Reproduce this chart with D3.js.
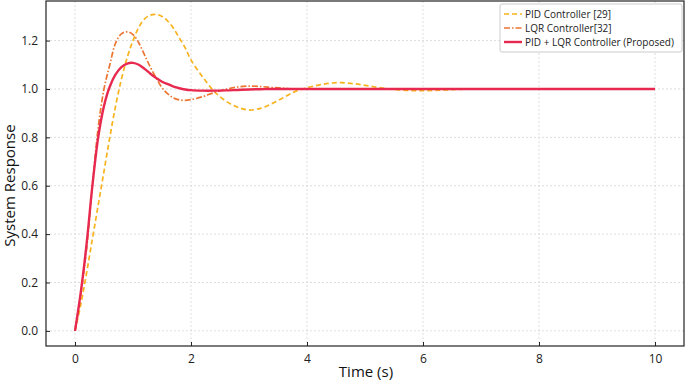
<!DOCTYPE html>
<html><head><meta charset="utf-8">
<script src="https://cdn.jsdelivr.net/npm/d3@7"></script>
<style>body{margin:0;background:#fff}svg{display:block}</style>
</head><body><svg id="c" width="685" height="381"></svg>
<script>
const time = [0,0.1,0.2,0.3,0.4,0.5,0.6,0.7,0.8,0.9,1.0,1.1,1.2,1.3,1.4,1.5,1.6,1.7,1.8,1.9,2.0,2.2,2.4,2.6,2.8,3.0,3.2,3.4,3.6,3.8,4.0,4.2,4.4,4.6,4.8,5.0,5.2,5.4,5.6,5.8,6.0,6.2,6.4,6.6,6.8,7.0,7.5,8.0,8.5,9.0,9.5,10.0];
const pid = [0,0.11,0.24,0.38,0.52,0.66,0.8,0.93,1.04,1.13,1.2,1.255,1.29,1.305,1.308,1.3,1.28,1.25,1.21,1.17,1.12,1.05,0.99,0.95,0.925,0.913,0.92,0.94,0.965,0.99,1.005,1.016,1.024,1.026,1.022,1.015,1.007,1.0,0.996,0.993,0.993,0.994,0.996,0.998,1.0,1.0,1.0,1.0,1.0,1.0,1.0,1.0];
const lqr = [0,0.15,0.34,0.6,0.84,1.0,1.1,1.19,1.228,1.236,1.225,1.19,1.14,1.09,1.045,1.005,0.98,0.963,0.955,0.953,0.956,0.968,0.985,0.998,1.008,1.012,1.01,1.006,1.003,1.0,1.0,1.0,1.0,1.0,1.0,1.0,1.0,1.0,1.0,1.0,1.0,1.0,1.0,1.0,1.0,1.0,1.0,1.0,1.0,1.0,1.0,1.0];
const proposed = [0,0.16,0.36,0.6,0.8,0.93,1.01,1.06,1.09,1.105,1.108,1.1,1.083,1.063,1.045,1.03,1.02,1.01,1.003,0.998,0.995,0.993,0.993,0.994,0.996,0.998,0.999,1.0,1.0,1.0,1.0,1.0,1.0,1.0,1.0,1.0,1.0,1.0,1.0,1.0,1.0,1.0,1.0,1.0,1.0,1.0,1.0,1.0,1.0,1.0,1.0,1.0];
const seriesNames = ["PID Controller [29]","LQR Controller[32]","PID + LQR Controller (Proposed)"];
const xTicks = [0,2,4,6,8,10];
const yTicks = [0.0,0.2,0.4,0.6,0.8,1.0,1.2];

const svg = d3.select("#c");
const L=46, R=684, T=1, B=346;
const x = d3.scaleLinear().domain([-0.5,10.5]).range([L,R]);
const y = d3.scaleLinear().domain([-0.0625,1.3636]).range([B,T]);
const font = "'Open Sans', sans-serif";

// grid
const g = svg.append("g");
g.selectAll(".vx").data(xTicks).join("line").attr("x1",d=>x(d)).attr("x2",d=>x(d)).attr("y1",T).attr("y2",B)
 .attr("stroke","#d4d4d4").attr("stroke-width",0.8).attr("stroke-dasharray","2,2");
g.selectAll(".hy").data(yTicks).join("line").attr("y1",d=>y(d)).attr("y2",d=>y(d)).attr("x1",L).attr("x2",R)
 .attr("stroke","#d4d4d4").attr("stroke-width",0.8).attr("stroke-dasharray","2,2");

// axes
const xa = svg.append("g").attr("transform",`translate(0,${B})`)
 .call(d3.axisBottom(x).tickValues(xTicks).tickSizeInner(-4).tickSizeOuter(0).tickPadding(8).tickFormat(d3.format("d")));
const ya = svg.append("g").attr("transform",`translate(${L},0)`)
 .call(d3.axisLeft(y).tickValues(yTicks).tickSizeInner(-4).tickSizeOuter(0).tickPadding(8).tickFormat(d3.format(".1f")));
[xa,ya].forEach(a=>{a.select(".domain").remove();a.selectAll("line").attr("stroke","#222");
 a.selectAll("text").attr("font-family",font).attr("font-size",12).attr("fill","#222");});

// lines
const mk = vals => d3.line().x((d,i)=>x(time[i])).y(d=>y(d)).curve(d3.curveCatmullRom.alpha(0.5))(vals);
const clip = svg.append("clipPath").attr("id","cp").append("rect").attr("x",L).attr("y",T).attr("width",R-L).attr("height",B-T);
const lines = svg.append("g").attr("clip-path","url(#cp)");
const styles = [
 {c:"#f8b21c",w:1.7,dash:"5,3"},
 {c:"#ec7532",w:1.7,dash:"6,2,1.5,2"},
 {c:"#e8294f",w:2.4,dash:null}
];
[pid,lqr,proposed].forEach((v,i)=>{
 lines.append("path").attr("d",mk(v)).attr("fill","none").attr("stroke",styles[i].c)
  .attr("stroke-width",styles[i].w).attr("stroke-dasharray",styles[i].dash);
});

// frame
svg.append("rect").attr("x",L).attr("y",T).attr("width",R-L).attr("height",B-T).attr("fill","none").attr("stroke","#222").attr("stroke-width",1.2);

// labels
svg.append("text").attr("x",(L+R)/2+1).attr("y",377).attr("text-anchor","middle").attr("font-family",font).attr("font-size",15).attr("fill","#111").text("Time (s)");
svg.append("text").attr("transform",`translate(15,${(T+B)/2+12}) rotate(-90)`).attr("text-anchor","middle").attr("font-family",font).attr("font-size",15).attr("fill","#111").text("System Response");

// legend
const lg = svg.append("g");
lg.append("rect").attr("x",500).attr("y",4).attr("width",182).attr("height",48).attr("rx",2).attr("fill","#fff").attr("stroke","#ccc").attr("stroke-width",1);
seriesNames.forEach((n,i)=>{
 const yy = 14 + i*14;
 lg.append("line").attr("x1",504).attr("x2",522).attr("y1",yy).attr("y2",yy).attr("stroke",styles[i].c).attr("stroke-width",styles[i].w).attr("stroke-dasharray",styles[i].dash);
 lg.append("text").attr("x",525).attr("y",yy+3.5).attr("font-family",font).attr("font-size",10).attr("fill","#222").text(n);
});
</script></body></html>
